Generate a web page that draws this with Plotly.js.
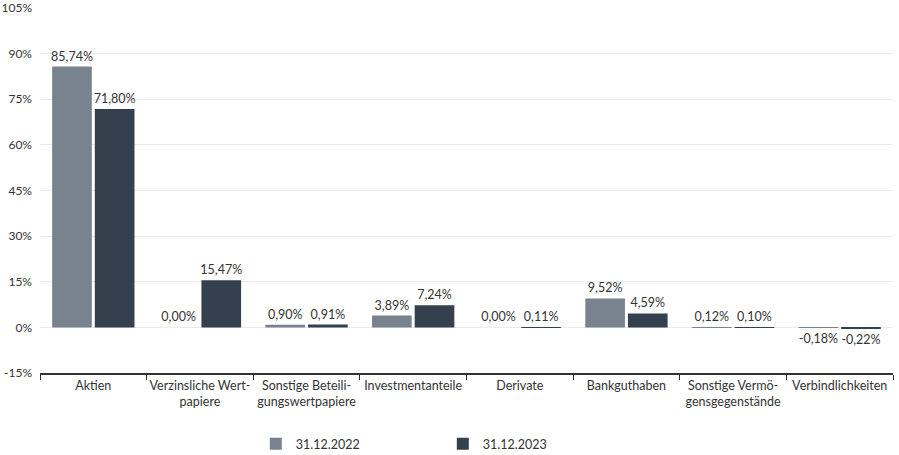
<!DOCTYPE html>
<html>
<head>
<meta charset="utf-8">
<script src="https://cdn.plot.ly/plotly-3.0.1.min.js"></script>
<style>
body { margin: 0; background: #fff; }
#chart { width: 899px; height: 455px; }
</style>
</head>
<body>
<div id="chart"></div>
<script>
categories = ["Aktien", "Verzinsliche Wert-<br>papiere", "Sonstige Beteili-<br>gungswertpapiere", "Investmentanteile",
              "Derivate", "Bankguthaben", "Sonstige Vermö-<br>gensgegenstände", "Verbindlichkeiten"];
values2022 = [85.74, 0.00, 0.90, 3.89, 0.00, 9.52, 0.12, -0.18];
values2023 = [71.80, 15.47, 0.91, 7.24, 0.11, 4.59, 0.10, -0.22];
yTicks = [-15, 0, 15, 30, 45, 60, 75, 90, 105];

function label(array){
    var out = [];
    for(var i = 0; i < array.length; i++){
        out.push(array[i].toFixed(2).replace(".", ",") + "%");
    }
    return out;
}

function tickText(array){
    var out = [];
    for(var i = 0; i < array.length; i++){
        out.push(array[i] + "%");
    }
    return out;
}

var font = "Lato, 'Open Sans', sans-serif";

var trace1 = {
    x: categories,
    y: values2022,
    name: "31.12.2022",
    type: "bar",
    marker: {color: "#78838f"},
    text: label(values2022),
    textposition: "outside",
    constraintext: "none",
    cliponaxis: false,
    textfont: {size: 12.5, color: "#333", family: font}
};
var trace2 = {
    x: categories,
    y: values2023,
    name: "31.12.2023",
    type: "bar",
    marker: {color: "#35404e"},
    text: label(values2023),
    textposition: "outside",
    constraintext: "none",
    cliponaxis: false,
    textfont: {size: 12.5, color: "#333", family: font}
};

var layout = {
    width: 899,
    height: 455,
    margin: {l: 40, r: 6, t: 8, b: 82, autoexpand: false},
    font: {family: font, size: 13, color: "#333"},
    barmode: "group",
    bargap: 0.2,
    bargroupgap: 0.07,
    plot_bgcolor: "#fff",
    paper_bgcolor: "#fff",
    showlegend: true,
    legend: {
        orientation: "h",
        x: 0.253,
        xanchor: "left",
        yref: "container",
        y: 0.024,
        yanchor: "middle",
        entrywidth: 142,
        font: {size: 12.5, color: "#333"}
    },
    xaxis: {
        automargin: false,
        tickangle: 0,
        tickson: "boundaries",
        ticks: "outside",
        ticklen: 5,
        tickcolor: "#333",
        showline: true,
        linecolor: "#333",
        linewidth: 1.5,
        showgrid: false,
        tickfont: {size: 12.5, color: "#333"}
    },
    yaxis: {
        automargin: false,
        range: [-15, 105],
        tickvals: yTicks,
        ticktext: tickText(yTicks),
        ticklabeloverflow: "allow",
        ticklabelstandoff: 7,
        showgrid: true,
        gridcolor: "#e8ecef",
        zeroline: true,
        zerolinecolor: "#e8ecef",
        zerolinewidth: 1,
        showline: false,
        ticks: "",
        tickfont: {size: 12, color: "#333"}
    }
};

Plotly.newPlot("chart", [trace1, trace2], layout, {displayModeBar: false});
</script>
</body>
</html>
